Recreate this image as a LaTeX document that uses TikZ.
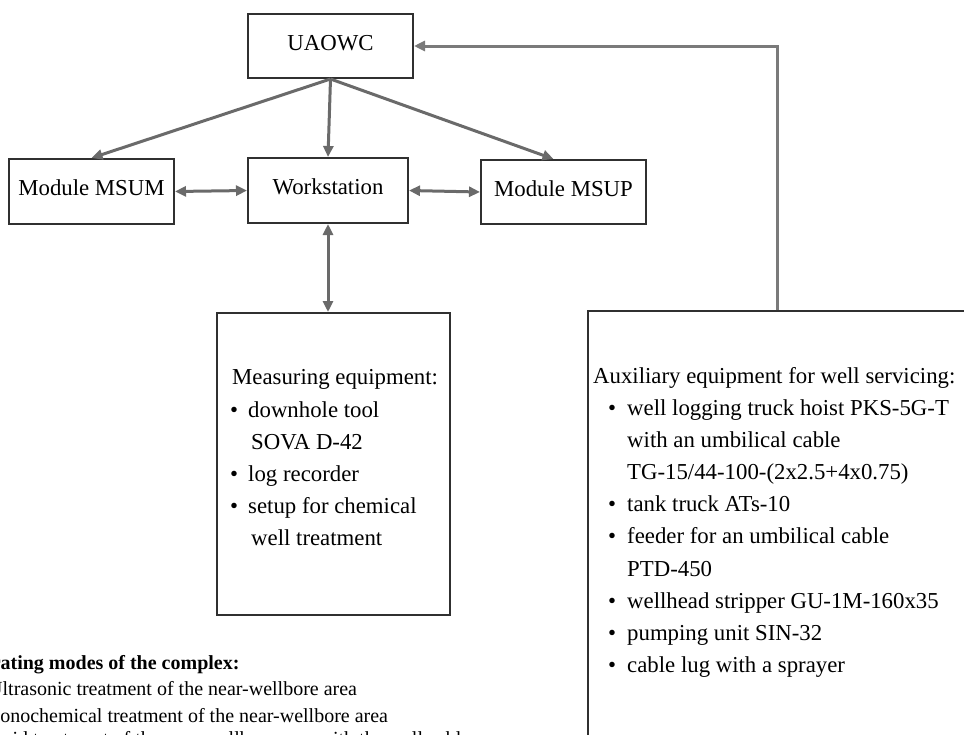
\documentclass[tikz,border=0pt]{standalone}
\usepackage{fontspec}
\setmainfont{Liberation Serif}
\usetikzlibrary{arrows.meta,calc}
\definecolor{arrgray}{HTML}{6A6A6A}
\definecolor{linkgray}{HTML}{7A7A7A}
\definecolor{boxline}{HTML}{303030}
\begin{document}
\begin{tikzpicture}[x=1pt,y=-1pt,
  font=\fontsize{22.8}{27}\selectfont,
  box/.style={draw=boxline,line width=2pt,rectangle,inner sep=0pt,text height=16pt,text depth=8pt},
  arr/.style={draw=arrgray,line width=3pt,-{Triangle[length=11pt,width=10pt]}},
  darr/.style={draw=arrgray,line width=3pt,{Triangle[length=11pt,width=10pt]}-{Triangle[length=11pt,width=10pt]}},
  txt/.style={anchor=base west,inner sep=0pt},
  bul/.style={anchor=base,inner sep=0pt},
  small/.style={font=\fontsize{20}{27}\selectfont},
]
\useasboundingbox (0,0) rectangle (964,734);
\clip (0,0) rectangle (964,734);

% boxes
\node[box,minimum width=165pt,minimum height=64pt] (uaowc) at (330.5,46) {UAOWC};
\node[box,minimum width=165pt,minimum height=65pt] (msum) at (91.5,191.5) {Module MSUM};
\node[box,minimum width=160pt,minimum height=65pt] (ws) at (328,190.5) {Workstation};
\node[box,minimum width=165pt,minimum height=64pt] (msup) at (563.5,192) {Module MSUP};
\node[box,minimum width=233pt,minimum height=302pt] (meas) at (333.5,464) {};
\node[box,minimum width=378pt,minimum height=460pt] (aux) at (777,541) {};

% connectors
\coordinate (msupin) at ($(msup.north)+(-10,0)$);
\draw[arr] (uaowc.south) -- (msum.north);
\draw[arr] (uaowc.south) -- (ws.north);
\draw[arr] (uaowc.south) -- (msupin);
\draw[darr] (msum.east) -- (ws.west);
\draw[darr] (ws.east) -- (msup.west);
\draw[darr] (ws.south) -- (ws.south |- meas.north);
\draw[arr,draw=linkgray] (aux.north) |- (uaowc.east);

% measuring equipment text
\node[txt] (m0) at (232,384) {Measuring equipment:};
\node[bul] (m1b) at (234,417) {•};
\node[txt] (m1) at (248,417) {downhole tool};
\node[txt] (m2) at (251,449) {SOVA D-42};
\node[bul] (m3b) at (234,481) {•};
\node[txt] (m3) at (248,481) {log recorder};
\node[bul] (m4b) at (234,513) {•};
\node[txt] (m4) at (248,513) {setup for chemical};
\node[txt] (m5) at (251,545) {well treatment};

% auxiliary equipment text
\node[txt] (a0) at (593,383) {Auxiliary equipment for well servicing:};
\node[bul] (a1b) at (612,415) {•};
\node[txt] (a1) at (627,415) {well logging truck hoist PKS-5G-T};
\node[txt] (a2) at (627,447) {with an umbilical cable};
\node[txt] (a3) at (627,479) {TG-15/44-100-(2x2.5+4x0.75)};
\node[bul] (a4b) at (612,511) {•};
\node[txt] (a4) at (627,511) {tank truck ATs-10};
\node[bul] (a5b) at (612,543) {•};
\node[txt] (a5) at (627,543) {feeder for an umbilical cable};
\node[txt] (a6) at (627,576) {PTD-450};
\node[bul] (a7b) at (612,608) {•};
\node[txt] (a7) at (627,608) {wellhead stripper GU-1M-160x35};
\node[bul] (a8b) at (612,640) {•};
\node[txt] (a8) at (627,640) {pumping unit SIN-32};
\node[bul] (a9b) at (612,672) {•};
\node[txt] (a9) at (627,672) {cable lug with a sprayer};

% operating modes text (cropped at the picture edge, as in the reference)
\node[txt,font=\fontsize{20}{27}\selectfont\bfseries] (o0) at (-44,669) {Operating modes of the complex:};
\node[txt,small] (o1) at (-12,695) {Ultrasonic treatment of the near-wellbore area};
\node[txt,small] (o2) at (-11,722) {Sonochemical treatment of the near-wellbore area};
\node[txt,small] (o3) at (-11,745) {Acid treatment of the near-wellbore area with the well cable};
\end{tikzpicture}
\end{document}
